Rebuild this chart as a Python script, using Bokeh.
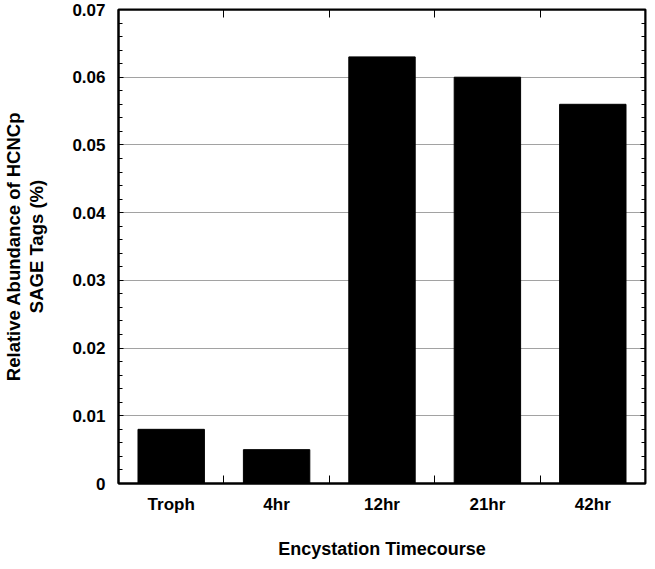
from bokeh.plotting import figure
from bokeh.models import (ColumnDataSource, Range1d, LinearAxis, FixedTicker,
                          CustomJSTickFormatter)
from bokeh.embed import file_html
from bokeh.resources import INLINE

categories = ["Troph", "4hr", "12hr", "21hr", "42hr"]
values = [0.008, 0.005, 0.063, 0.060, 0.056]
y_ticks = [0, 0.01, 0.02, 0.03, 0.04, 0.05, 0.06, 0.07]
y_tick_labels = ["0", "0.01", "0.02", "0.03", "0.04", "0.05", "0.06", "0.07"]

centers = [i + 0.5 for i in range(len(categories))]
bounds = [i for i in range(1, len(categories))]

source = ColumnDataSource(dict(x=centers, top=values, cat=categories))

FONT = "Liberation Sans"

p = figure(width=647, height=561, output_backend="svg", toolbar_location=None,
           x_range=Range1d(0, len(categories)), y_range=Range1d(0, y_ticks[-1]),
           x_axis_location=None, y_axis_location=None,
           min_border_left=118, min_border_right=2, min_border_top=9,
           min_border_bottom=78)

p.vbar(x="x", top="top", width=0.63, bottom=0, source=source,
       fill_color="black", line_color="black")

p.outline_line_color = "black"
p.outline_line_width = 2
p.background_fill_color = "white"
p.border_fill_color = "white"

blank = CustomJSTickFormatter(code="return ''")

def style_axis(ax):
    ax.axis_line_color = "black"
    ax.axis_line_width = 2
    ax.major_tick_line_color = "black"
    ax.minor_tick_line_color = "black"
    ax.major_tick_line_width = 1
    ax.minor_tick_line_width = 1
    ax.major_tick_out = 0
    ax.minor_tick_out = 0
    ax.major_label_text_font = FONT
    ax.major_label_text_font_style = "bold"
    ax.axis_label_text_font = FONT
    ax.axis_label_text_font_style = "bold"
    ax.axis_label_text_color = "black"
    ax.major_label_text_color = "black"

yticker = FixedTicker(ticks=y_ticks,
                      minor_ticks=[round(i * 0.002, 3) for i in range(36)])
yl = LinearAxis(ticker=yticker)
style_axis(yl)
yl.major_label_overrides = {t: l for t, l in zip(y_ticks, y_tick_labels)}
yl.major_label_text_font_size = "17px"
yl.major_label_standoff = 13
yl.major_tick_in = 5
yl.minor_tick_in = 4
yl.axis_label = "Relative Abundance of HCNCp\nSAGE Tags (%)"
yl.axis_label_text_font_size = "18.5px"
yl.axis_label_standoff = 22
yl.axis_label_text_line_height = 1.1
p.add_layout(yl, "left")

# right-hand frame ticks: drawn at the right edge of the frame, pointing inward
yr = LinearAxis(ticker=yticker, formatter=blank, fixed_location=len(categories))
style_axis(yr)
yr.major_tick_in = 0
yr.minor_tick_in = 0
yr.major_tick_out = 5
yr.minor_tick_out = 4
yr.major_label_standoff = 0
yr.axis_label_standoff = 0
p.add_layout(yr, "left")

xticker = FixedTicker(ticks=centers, minor_ticks=bounds)
xb = LinearAxis(ticker=xticker)
style_axis(xb)
xb.major_label_overrides = {c: n for c, n in zip(centers, categories)}
xb.major_label_text_font_size = "17px"
xb.major_label_standoff = 11
xb.major_tick_in = 0
xb.minor_tick_in = 8
xb.axis_label = "Encystation Timecourse"
xb.axis_label_text_font_size = "18px"
xb.axis_label_standoff = 22
p.add_layout(xb, "below")

xt = LinearAxis(ticker=xticker, formatter=blank, fixed_location=y_ticks[-1])
style_axis(xt)
xt.major_tick_in = 0
xt.minor_tick_in = 8
xt.major_label_standoff = 0
xt.axis_label_standoff = 0
p.add_layout(xt, "above")

p.xgrid.visible = False
p.ygrid.ticker = FixedTicker(ticks=y_ticks)
p.ygrid.grid_line_color = "#444444"
p.ygrid.grid_line_width = 1
p.ygrid.grid_line_dash = "1 1"

open("out.html", "w").write(file_html(p, INLINE))
